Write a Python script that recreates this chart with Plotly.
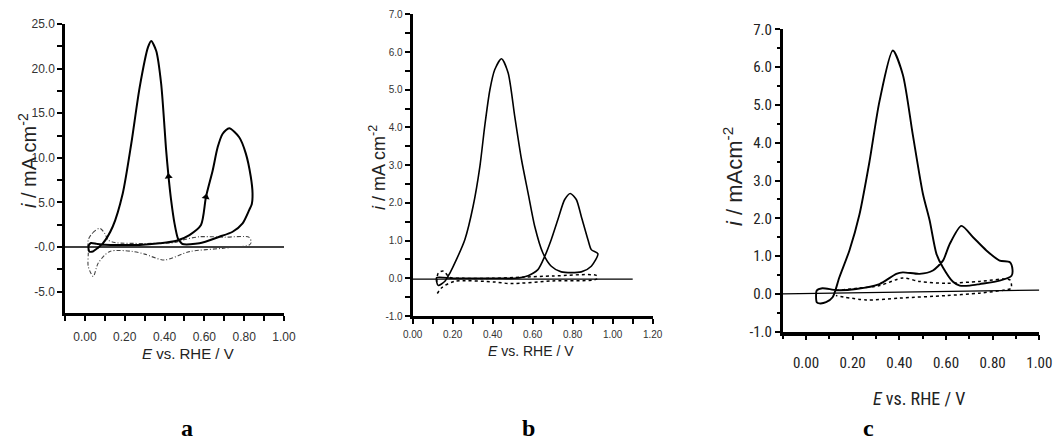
import plotly.graph_objects as go

W, H = 1054, 441

# ---------------- Panel a ----------------
a_solid_E = [0.03, 0.06, 0.10, 0.20, 0.275, 0.375, 0.46, 0.525, 0.583, 0.608, 0.642, 0.667, 0.692, 0.725,
             0.775, 0.808, 0.833, 0.842, 0.838, 0.825, 0.792, 0.742, 0.675, 0.575, 0.49, 0.475, 0.467,
             0.45, 0.433, 0.42, 0.408, 0.383, 0.358, 0.333, 0.317, 0.275, 0.233, 0.19, 0.14, 0.09,
             0.065, 0.04, 0.022, 0.018, 0.03]
a_solid_i = [0.45, 0.35, 0.25, 0.22, 0.22, 0.41, 0.7, 1.34, 2.46, 5.6, 8.6, 11.2, 12.7, 13.3,
             12.3, 10.5, 7.9, 6.0, 4.8, 4.14, 2.65, 1.71, 1.15, 0.41, 0.34, 0.7, 0.97,
             2.65, 5.26, 7.9, 10.85, 18.3, 22.0, 23.1, 22.4, 17.9, 11.6, 6.0, 2.3, 0.4,
             -0.1, -0.5, -0.5, 0.1, 0.45]
a_dash_E = [0.017, 0.04, 0.075, 0.10, 0.117, 0.15, 0.30, 0.45, 0.49, 0.575, 0.70, 0.825, 0.835,
            0.825, 0.69, 0.525, 0.40, 0.30, 0.24, 0.125, 0.067, 0.042, 0.017, 0.017, 0.017]
a_dash_i = [0.8, 1.6, 2.1, 1.5, 0.78, 0.5, 0.4, 0.5, 0.78, 1.15, 1.1, 1.08, 0.5,
            0.22, -0.15, -0.52, -1.45, -0.8, -0.5, -0.5, -1.8, -3.3, -2.2, -0.7, 0.8]
a_base_E = [-0.1, 1.0]
a_base_i = [0.0, 0.0]
a_arrow_E = [0.42, 0.608]
a_arrow_i = [7.9, 5.6]
a_arrow_angle = [-6, 12]
a_ytick_vals = [-5, 0, 5, 10, 15, 20, 25]
a_ytick_text = ["-5.0", "-0.0", "5.0", "10.0", "15.0", "20.0", "25.0"]
a_xtick_vals = [0.0, 0.2, 0.4, 0.6, 0.8, 1.0]
a_xtick_text = ["0.00", "0.20", "0.40", "0.60", "0.80", "1.00"]

# ---------------- Panel b ----------------
b_solid_E = [0.12, 0.20, 0.30, 0.45, 0.51, 0.577, 0.626, 0.66, 0.693, 0.726, 0.76, 0.788, 0.818, 0.843,
             0.876, 0.893, 0.926, 0.893, 0.843, 0.743, 0.693, 0.651, 0.61, 0.577, 0.544, 0.51, 0.477,
             0.444, 0.41, 0.386, 0.36, 0.336, 0.302, 0.261, 0.219, 0.186, 0.161, 0.128, 0.12, 0.12]
b_solid_i = [0.02, 0.0, 0.0, 0.0, 0.0, 0.07, 0.23, 0.58, 1.03, 1.56, 2.09, 2.25, 2.09, 1.64,
             1.03, 0.76, 0.65, 0.32, 0.17, 0.17, 0.32, 0.67, 1.38, 2.26, 3.15, 4.3, 5.45,
             5.82, 5.53, 5.0, 4.03, 2.97, 1.91, 1.03, 0.5, 0.14, -0.08, -0.19, -0.1, 0.02]
b_dot_E = [0.12, 0.128, 0.153, 0.186, 0.25, 0.40, 0.55, 0.70, 0.92, 0.92, 0.70, 0.49, 0.41,
           0.211, 0.145, 0.12]
b_dot_i = [-0.1, 0.14, 0.19, 0.02, 0.0, 0.0, 0.03, 0.06, 0.07, -0.02, -0.07, -0.14, -0.1,
           -0.08, -0.25, -0.43]
b_base_E = [0.0, 1.1]
b_base_i = [-0.02, -0.02]
b_ytick_vals = [-1, 0, 1, 2, 3, 4, 5, 6, 7]
b_ytick_text = ["-1.0", "0.0", "1.0", "2.0", "3.0", "4.0", "5.0", "6.0", "7.0"]
b_xtick_vals = [0.0, 0.2, 0.4, 0.6, 0.8, 1.0, 1.2]
b_xtick_text = ["0.00", "0.20", "0.40", "0.60", "0.80", "1.00", "1.20"]

# ---------------- Panel c ----------------
c_solid_E = [0.046, 0.07, 0.13, 0.215, 0.315, 0.387, 0.415, 0.487, 0.544, 0.587, 0.616, 0.666, 0.716,
             0.773, 0.83, 0.874, 0.885, 0.881, 0.83, 0.745, 0.702, 0.659, 0.63, 0.587, 0.559, 0.53,
             0.501, 0.458, 0.415, 0.372, 0.315, 0.272, 0.229, 0.186, 0.143, 0.114, 0.086, 0.057,
             0.046, 0.046]
c_solid_i = [0.09, 0.15, 0.1, 0.13, 0.26, 0.53, 0.57, 0.53, 0.62, 0.88, 1.32, 1.8, 1.5,
             1.15, 0.88, 0.84, 0.65, 0.48, 0.35, 0.26, 0.22, 0.22, 0.32, 0.7, 1.06, 1.94,
             2.65, 4.2, 5.8, 6.44, 5.1, 3.5, 2.1, 1.15, 0.44, -0.09, -0.22, -0.25,
             -0.22, 0.09]
c_dot_E = [0.128, 0.22, 0.315, 0.415, 0.487, 0.60, 0.745, 0.874, 0.88, 0.874, 0.745, 0.60, 0.401,
           0.258, 0.128]
c_dot_i = [0.09, 0.15, 0.22, 0.42, 0.33, 0.28, 0.33, 0.37, 0.15, 0.13, 0.02, -0.045, -0.11,
           -0.16, -0.045]
c_base_E = [-0.1, 1.0]
c_base_i = [0.0, 0.1]
c_ytick_vals = [-1, 0, 1, 2, 3, 4, 5, 6, 7]
c_ytick_text = ["-1.0", "0.0", "1.0", "2.0", "3.0", "4.0", "5.0", "6.0", "7.0"]
c_xtick_vals = [0.0, 0.2, 0.4, 0.6, 0.8, 1.0]
c_xtick_text = ["0.00", "0.20", "0.40", "0.60", "0.80", "1.00"]

NARROW = "Liberation Sans Narrow, Arial Narrow, Roboto Condensed, Liberation Sans, Arial, sans-serif"
SANS = "Liberation Sans, Arial, sans-serif"
SERIF = "Liberation Serif, Times New Roman, serif"


def dom_x(x0, x1):
    return [x0 / W, x1 / W]


def dom_y(ytop, ybot):
    return [1 - ybot / H, 1 - ytop / H]


fig = go.Figure()

# panel a traces
fig.add_trace(go.Scatter(x=a_base_E, y=a_base_i, mode="lines", line=dict(color="black", width=1.3),
                         xaxis="x", yaxis="y", hoverinfo="skip"))
fig.add_trace(go.Scatter(x=a_dash_E, y=a_dash_i, mode="lines",
                         line=dict(color="#444", width=1.1, dash="4px,2px,1px,2px", shape="spline", smoothing=0.8),
                         xaxis="x", yaxis="y"))
fig.add_trace(go.Scatter(x=a_solid_E, y=a_solid_i, mode="lines",
                         line=dict(color="black", width=2, shape="spline", smoothing=0.7),
                         xaxis="x", yaxis="y"))
fig.add_trace(go.Scatter(x=a_arrow_E, y=a_arrow_i, mode="markers",
                         marker=dict(symbol="triangle-up", size=7, color="black", angle=a_arrow_angle),
                         xaxis="x", yaxis="y"))

# panel b traces
fig.add_trace(go.Scatter(x=b_base_E, y=b_base_i, mode="lines", line=dict(color="black", width=1.3),
                         xaxis="x2", yaxis="y2"))
fig.add_trace(go.Scatter(x=b_dot_E, y=b_dot_i, mode="lines",
                         line=dict(color="black", width=1.5, dash="dot", shape="spline", smoothing=0.8),
                         xaxis="x2", yaxis="y2"))
fig.add_trace(go.Scatter(x=b_solid_E, y=b_solid_i, mode="lines",
                         line=dict(color="black", width=1.6, shape="spline", smoothing=0.7),
                         xaxis="x2", yaxis="y2"))

# panel c traces
fig.add_trace(go.Scatter(x=c_base_E, y=c_base_i, mode="lines", line=dict(color="black", width=1.3),
                         xaxis="x3", yaxis="y3"))
fig.add_trace(go.Scatter(x=c_dot_E, y=c_dot_i, mode="lines",
                         line=dict(color="black", width=1.5, dash="dot", shape="spline", smoothing=0.8),
                         xaxis="x3", yaxis="y3"))
fig.add_trace(go.Scatter(x=c_solid_E, y=c_solid_i, mode="lines",
                         line=dict(color="black", width=1.9, shape="spline", smoothing=0.7),
                         xaxis="x3", yaxis="y3"))

ax_common = dict(showline=True, linecolor="black", zeroline=False, showgrid=False,
                 ticks="outside", tickcolor="black", mirror=False, automargin=False)

fig.update_layout(
    template="none",
    width=W, height=H, margin=dict(l=0, r=0, t=0, b=0, pad=0),
    paper_bgcolor="white", plot_bgcolor="white", showlegend=False,
    font=dict(family=SANS, color="#222"),
    # panel a
    xaxis=dict(**ax_common, domain=dom_x(65, 284), range=[-0.1, 1.0], anchor="y",
               linewidth=2.5, ticklen=5, tickwidth=2,
               tickvals=a_xtick_vals, ticktext=a_xtick_text, tickfont=dict(size=12, color="#333"),
               ticklabelstandoff=6,
               minor=dict(dtick=0.1, tick0=0, ticks="outside", ticklen=5, tickwidth=2, tickcolor="black")),
    yaxis=dict(**ax_common, domain=dom_y(24, 313), range=[-7.4, 25], anchor="x",
               linewidth=2.5, ticklen=5, tickwidth=2,
               tickvals=a_ytick_vals, ticktext=a_ytick_text, tickfont=dict(size=12, color="#333"),
               minor=dict(dtick=2.5, tick0=0, ticks="outside", ticklen=5, tickwidth=2, tickcolor="black")),
    # panel b
    xaxis2=dict(**ax_common, domain=dom_x(412.7, 652.7), range=[0, 1.2], anchor="y2",
                linewidth=3, ticklen=5, tickwidth=2,
                tickvals=b_xtick_vals, ticktext=b_xtick_text, tickfont=dict(size=10, color="#333"),
                ticklabelstandoff=2,
                minor=dict(dtick=0.1, tick0=0, ticks="outside", ticklen=5, tickwidth=2, tickcolor="black")),
    yaxis2=dict(**ax_common, domain=dom_y(14.3, 316), range=[-1, 7], anchor="x2",
                linewidth=3, ticklen=5, tickwidth=2,
                tickvals=b_ytick_vals, ticktext=b_ytick_text, tickfont=dict(size=10, color="#333"),
                minor=dict(dtick=0.5, tick0=0, ticks="outside", ticklen=5, tickwidth=2, tickcolor="black")),
    # panel c
    xaxis3=dict(**ax_common, domain=dom_x(782.7, 1039.3), range=[-0.1, 1.0], anchor="y3",
                linewidth=3.5, ticklen=5, tickwidth=1.5,
                tickvals=c_xtick_vals, ticktext=c_xtick_text,
                tickfont=dict(size=15, family=NARROW, color="#222"),
                ticklabelstandoff=10,
                minor=dict(dtick=0.1, tick0=0, ticks="outside", ticklen=4, tickwidth=1.5, tickcolor="black")),
    yaxis3=dict(**ax_common, domain=dom_y(29.3, 331.7), range=[-1, 7], anchor="x3",
                linewidth=2.5, ticklen=5, tickwidth=1.5,
                tickvals=c_ytick_vals, ticktext=c_ytick_text,
                tickfont=dict(size=15, family=NARROW, color="#222"),
                minor=dict(dtick=0.5, tick0=0, ticks="outside", ticklen=3, tickwidth=1.5, tickcolor="black")),
)


def ann(text, px, py, size, family=SANS, angle=0, color="#222"):
    fig.add_annotation(text=text, x=px / W, y=1 - py / H, xref="paper", yref="paper",
                       xanchor="center", yanchor="middle", showarrow=False, textangle=angle,
                       font=dict(size=size, family=family, color=color))


# axis titles
ann("<i>E</i> vs. RHE / V", 188, 353, 15)
ann("<i>E</i> vs. RHE / V", 531, 351, 14)
ann("<i>E</i> vs. RHE / V", 919, 398, 18, family=NARROW)
ann("<i>i</i> / mA cm<sup>-2</sup>", 27, 161, 20, angle=-90)
ann("<i>i</i> / mA cm<sup>-2</sup>", 377, 168, 18, angle=-90)
ann("<i>i</i> / mAcm<sup>-2</sup>", 733, 177, 22, angle=-90)

# panel letters
ann("<b>a</b>", 187, 428, 24, family=SERIF, color="black")
ann("<b>b</b>", 528, 428, 24, family=SERIF, color="black")
ann("<b>c</b>", 868, 428, 24, family=SERIF, color="black")

fig.write_html("out.html", config={"displayModeBar": False},
               post_script="document.body.style.margin='0px';document.body.style.overflow='hidden';")
